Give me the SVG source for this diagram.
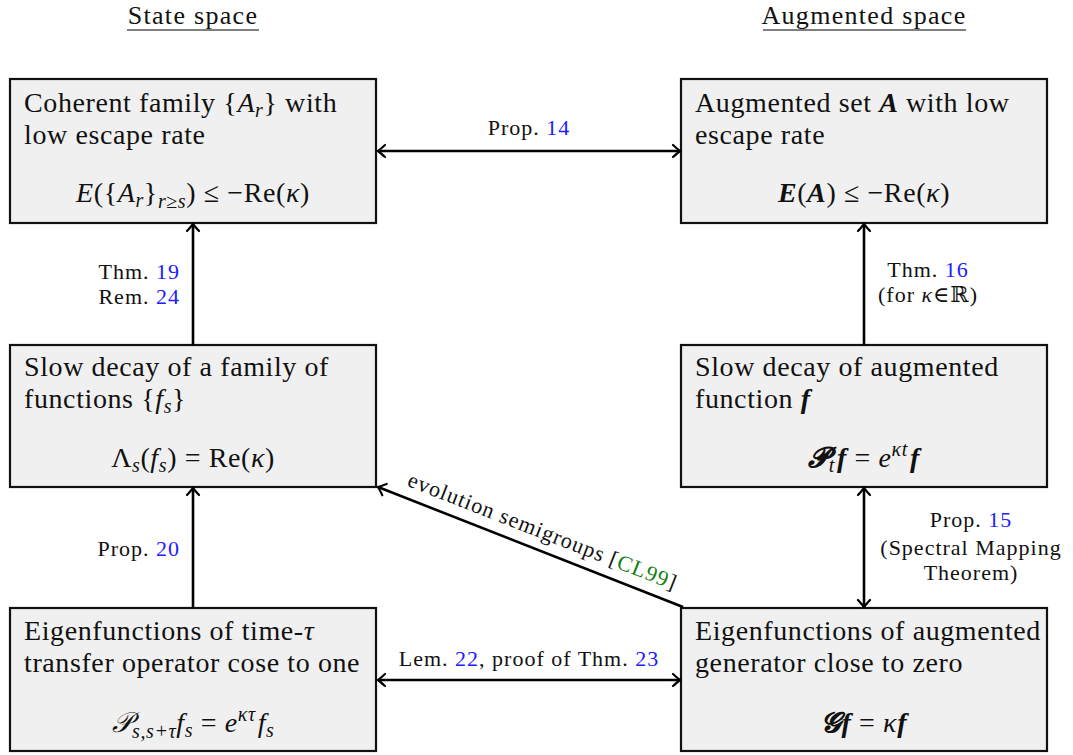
<svg xmlns="http://www.w3.org/2000/svg" width="1073" height="755" viewBox="0 0 1073 755">
<defs>
<marker id="arr" markerUnits="userSpaceOnUse" markerWidth="20" markerHeight="20" viewBox="-10 -10 20 20" refX="0" refY="0" orient="auto-start-reverse">
<path d="M -7,-6 Q -2,-1.5 0,0 Q -2,1.5 -7,6" fill="none" stroke="#000" stroke-width="2.2" stroke-linecap="round"/>
</marker>
</defs>
<style>
text{font-family:"Liberation Serif","DejaVu Serif",serif;fill:#111}
.bx{fill:#f0f0f0;stroke:#111;stroke-width:2.2}
.t{font-size:28px;letter-spacing:0.6px}
.l{font-size:22px;letter-spacing:1px}
.h{font-size:26px;letter-spacing:1.3px}
.i{font-style:italic}
.b{font-weight:bold;font-style:italic}
.s{font-size:20px}
.bl{fill:#2020ff}
.gr{fill:#108010}
.c line{stroke:#000;stroke-width:2.6;fill:none}
</style>

<g id="headers">
<text class="h" x="193" y="24" text-anchor="middle">State space</text>
<line x1="127" y1="30" x2="259" y2="30" stroke="#000" stroke-width="1.2"/>
<text class="h" x="864" y="24" text-anchor="middle">Augmented space</text>
<line x1="763" y1="30" x2="966" y2="30" stroke="#000" stroke-width="1.2"/>
</g>

<g id="n-coherent">
<rect class="bx" x="10" y="79" width="366" height="144"/>
<text class="t" x="24" y="112">Coherent family {<tspan class="i">A</tspan><tspan class="i s" dy="5">r</tspan><tspan dy="-5">} with</tspan></text>
<text class="t" x="24" y="144">low escape rate</text>
<text class="t" x="193" y="202" text-anchor="middle"><tspan class="i">E</tspan>({<tspan class="i">A</tspan><tspan class="i s" dy="5">r</tspan><tspan dy="-5">}</tspan><tspan class="i s" dy="6">r</tspan><tspan class="s">≥</tspan><tspan class="i s">s</tspan><tspan dy="-6">) ≤ −Re(</tspan><tspan class="i">κ</tspan>)</text>
</g>

<g id="n-augset">
<rect class="bx" x="681" y="79" width="366" height="144"/>
<text class="t" x="695" y="112">Augmented set <tspan class="b">A</tspan> with low</text>
<text class="t" x="695" y="144">escape rate</text>
<text class="t" x="864" y="202" text-anchor="middle"><tspan class="b">E</tspan>(<tspan class="b">A</tspan>) ≤ −Re(<tspan class="i">κ</tspan>)</text>
</g>

<g id="n-slowfam">
<rect class="bx" x="10" y="345" width="366" height="142"/>
<text class="t" x="24" y="376">Slow decay of a family of</text>
<text class="t" x="24" y="408">functions  {<tspan class="i">f</tspan><tspan class="i s" dy="5">s</tspan><tspan dy="-5">}</tspan></text>
<text class="t" x="193" y="467" text-anchor="middle">Λ<tspan class="i s" dy="5">s</tspan><tspan dy="-5">(</tspan><tspan class="i">f</tspan><tspan class="i s" dy="5">s</tspan><tspan dy="-5">) = Re(</tspan><tspan class="i">κ</tspan>)</text>
</g>

<g id="n-slowaug">
<rect class="bx" x="681" y="345" width="366" height="142"/>
<text class="t" x="695" y="376">Slow decay of augmented</text>
<text class="t" x="695" y="408">function <tspan class="b">f</tspan></text>
<text class="t" x="864" y="467" text-anchor="middle"><tspan class="b">𝓟</tspan><tspan class="i s" dy="5">t</tspan><tspan dx="2" dy="-5" class="b">f</tspan> = <tspan class="i">e</tspan><tspan class="i s" dy="-11">κt</tspan><tspan class="b" dy="11" dx="2">f</tspan></text>
</g>

<g id="n-eigone">
<rect class="bx" x="10" y="608" width="366" height="143"/>
<text class="t" x="24" y="640">Eigenfunctions of time-<tspan class="i">τ</tspan></text>
<text class="t" x="24" y="672">transfer operator cose to one</text>
<text class="t" x="193" y="732" text-anchor="middle"><tspan class="i">𝒫</tspan><tspan class="i s" dy="6">s,s+τ</tspan><tspan class="i" dy="-6">f</tspan><tspan class="i s" dy="5">s</tspan><tspan dy="-5"> = </tspan><tspan class="i">e</tspan><tspan class="i s" dy="-11">κτ</tspan><tspan class="i" dy="11" dx="2">f</tspan><tspan class="i s" dy="5">s</tspan></text>
</g>

<g id="n-eigzero">
<rect class="bx" x="681" y="608" width="366" height="143"/>
<text class="t" x="695" y="640">Eigenfunctions of augmented</text>
<text class="t" x="695" y="672">generator close to zero</text>
<text class="t" x="864" y="732" text-anchor="middle"><tspan class="b">𝓖</tspan><tspan class="b">f</tspan> = <tspan class="i">κ</tspan><tspan class="b">f</tspan></text>
</g>

<g id="connectors" class="c">
<line x1="378" y1="151" x2="680" y2="151" marker-start="url(#arr)" marker-end="url(#arr)"/>
<line x1="193" y1="345" x2="193" y2="224" marker-end="url(#arr)"/>
<line x1="864" y1="345" x2="864" y2="224" marker-end="url(#arr)"/>
<line x1="193" y1="608" x2="193" y2="488" marker-end="url(#arr)"/>
<line x1="864" y1="488" x2="864" y2="607" marker-start="url(#arr)" marker-end="url(#arr)"/>
<line x1="683" y1="607" x2="378" y2="487" marker-end="url(#arr)"/>
<line x1="378" y1="680" x2="680" y2="680" marker-start="url(#arr)" marker-end="url(#arr)"/>
</g>

<g id="labels">
<text class="l" x="529" y="135" text-anchor="middle">Prop. <tspan class="bl">14</tspan></text>
<text class="l" x="180" y="279" text-anchor="end">Thm. <tspan class="bl">19</tspan></text>
<text class="l" x="180" y="304" text-anchor="end">Rem. <tspan class="bl">24</tspan></text>
<text class="l" x="928" y="277" text-anchor="middle">Thm. <tspan class="bl">16</tspan></text>
<text class="l" x="928" y="302" text-anchor="middle">(for <tspan class="i">κ</tspan>∈ℝ)</text>
<text class="l" x="180" y="556" text-anchor="end">Prop. <tspan class="bl">20</tspan></text>
<text class="l" x="971" y="527" text-anchor="middle">Prop. <tspan class="bl">15</tspan></text>
<text class="l" x="971" y="555" text-anchor="middle">(Spectral Mapping</text>
<text class="l" x="971" y="580" text-anchor="middle">Theorem)</text>
<text class="l" x="529" y="666" text-anchor="middle">Lem. <tspan class="bl">22</tspan>, proof of Thm. <tspan class="bl">23</tspan></text>
<text class="l" x="540" y="538" text-anchor="middle" transform="rotate(21.4 540 538)">evolution semigroups [<tspan class="gr">CL99</tspan>]</text>
</g>
</svg>
